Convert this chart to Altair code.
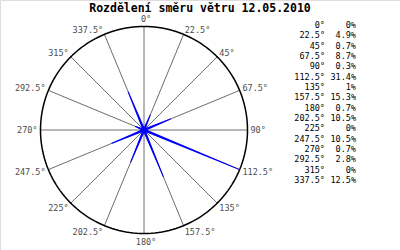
import math
import altair as alt
import pandas as pd

# ---- data ----
directions = [0, 22.5, 45, 67.5, 90, 112.5, 135, 157.5, 180, 202.5, 225, 247.5, 270, 292.5, 315, 337.5]
dir_labels = ["0°", "22.5°", "45°", "67.5°", "90°", "112.5°", "135°", "157.5°",
              "180°", "202.5°", "225°", "247.5°", "270°", "292.5°", "315°", "337.5°"]
percents = [0, 4.9, 0.7, 8.7, 0.3, 31.4, 1, 15.3, 0.7, 10.5, 0, 10.5, 0.7, 2.8, 0, 12.5]
pct_labels = ["0%", "4.9%", "0.7%", "8.7%", "0.3%", "31.4%", "1%", "15.3%",
              "0.7%", "10.5%", "0%", "10.5%", "0.7%", "2.8%", "0%", "12.5%"]
title_text = "Rozdělení směru větru 12.05.2010"

# ---- geometry ----
W, H = 400, 250
CX, CY, RPX = 144, 130, 103.5
RMAX = max(percents)
k = RMAX / RPX
xs = alt.Scale(domain=[-CX * k, (W - CX) * k], range=[0, W], nice=False, zero=False)
ys = alt.Scale(domain=[-(H - CY) * k, CY * k], range=[H, 0], nice=False, zero=False)
FONT = "DejaVu Sans Mono"

def sc(a):
    r = math.radians(a)
    return math.sin(r), math.cos(r)

# spokes
spokes = pd.DataFrame([
    {"x": 0.0, "y": 0.0, "x2": RMAX * sc(a)[0], "y2": RMAX * sc(a)[1]} for a in directions
])
spoke_layer = alt.Chart(spokes).mark_rule(color="#6e6e6e", strokeWidth=1).encode(
    x=alt.X("x:Q", scale=xs, axis=None), y=alt.Y("y:Q", scale=ys, axis=None),
    x2="x2:Q", y2="y2:Q")

# circle outline
circ = pd.DataFrame([
    {"t": t, "x": RMAX * sc(t)[0], "y": RMAX * sc(t)[1]} for t in range(0, 362, 2)
])
circle_layer = alt.Chart(circ).mark_line(color="black", strokeWidth=1.5).encode(
    x=alt.X("x:Q", scale=xs, axis=None), y=alt.Y("y:Q", scale=ys, axis=None), order="t:Q")

# wind wedges
rows = []
for a, v in zip(directions, percents):
    if v <= 0:
        continue
    s, c = sc(a)
    rows.append({"dir": a, "o": 0, "x": 0.0, "y": 0.0, "w": 2.6})
    rows.append({"dir": a, "o": 1, "x": v * s, "y": v * c, "w": 1.0})
wind = pd.DataFrame(rows)
wind_layer = alt.Chart(wind).mark_trail(color="#0000ff").encode(
    x=alt.X("x:Q", scale=xs, axis=None), y=alt.Y("y:Q", scale=ys, axis=None),
    detail="dir:N", order="o:Q", size=alt.Size("w:Q", scale=None, legend=None))

# angle labels
lab = []
for a, t in zip(directions, dir_labels):
    s, c = sc(a)
    if a in (0, 180):
        al = "center"; xo = 2; yo = -8 if a == 0 else 8
    elif s > 0:
        al = "left"; xo = 3 * s; yo = -5 * c if c > 0 else -7 * c
    else:
        al = "right"; xo = -3 * abs(s); yo = -5 * c if c > 0 else -7 * c
    lab.append({"t": t, "al": al, "x": RMAX * s + xo * k, "y": RMAX * c - yo * k})
labels = pd.DataFrame(lab)

label_layers = []
for al in ("left", "right", "center"):
    label_layers.append(
        alt.Chart(labels).transform_filter(alt.datum.al == al).mark_text(
            align=al, baseline="middle", font=FONT, fontSize=8.5, color="#4d4d4d").encode(
            x=alt.X("x:Q", scale=xs, axis=None), y=alt.Y("y:Q", scale=ys, axis=None), text="t:N"))

# title
title_layer = alt.Chart(pd.DataFrame({"t": [title_text]})).mark_text(
    font=FONT, fontSize=11.5, fontWeight="bold", color="black", align="center", baseline="middle").encode(
    x=alt.value(200), y=alt.value(9), text="t:N")

# legend table
leg = pd.DataFrame({"row": list(range(len(directions))), "d": dir_labels, "p": pct_labels})
ly = alt.Y("row:O", scale=alt.Scale(type="point", range=[25, 180], padding=0), axis=None)
leg_dir = alt.Chart(leg).mark_text(font=FONT, fontSize=8.5, align="right", baseline="middle", color="black").encode(
    x=alt.value(325), y=ly, text="d:N")
leg_pct = alt.Chart(leg).mark_text(font=FONT, fontSize=8.5, align="right", baseline="middle", color="black").encode(
    x=alt.value(356), y=ly, text="p:N")

chart = alt.layer(
    spoke_layer, circle_layer, wind_layer, *label_layers, title_layer, leg_dir, leg_pct
).resolve_scale(y="independent").properties(
    width=W, height=H, padding=0, autosize=alt.AutoSizeParams(type="none")
).configure_view(stroke="black", strokeWidth=2).configure(background="white")

chart.save("out.html", embed_options={"renderer": "svg", "actions": False})
